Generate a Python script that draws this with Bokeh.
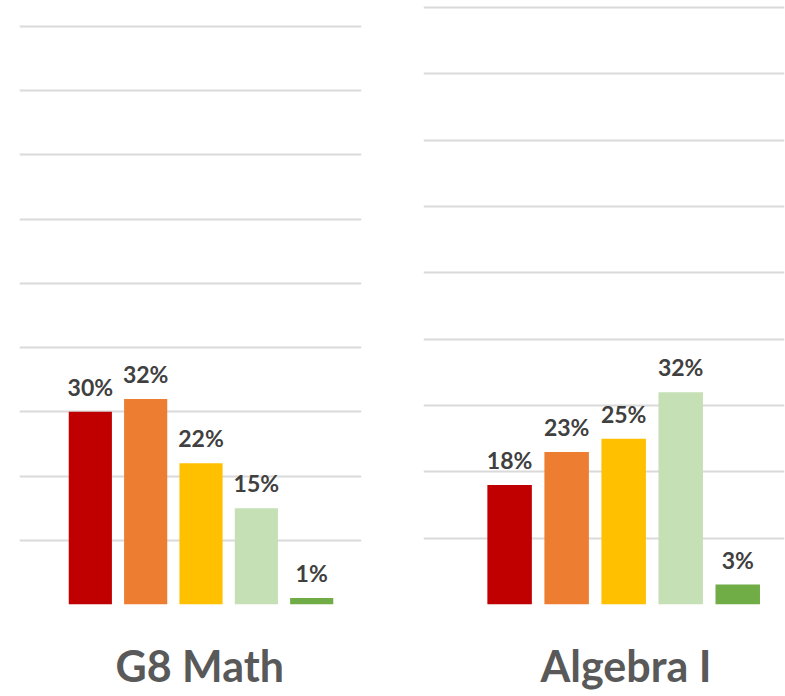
from bokeh.plotting import figure
from bokeh.layouts import row
from bokeh.models import ColumnDataSource, Range1d, FixedTicker, Title
from bokeh.embed import file_html
from bokeh.resources import INLINE
from bokeh.core.properties import value

levels = ["Level 1", "Level 2", "Level 3", "Level 4", "Level 5"]
colors = ["#C00000", "#ED7D31", "#FFC000", "#C5E0B4", "#70AD47"]
g8_values = [30, 32, 22, 15, 1]
alg_values = [18, 23, 25, 32, 3]
grid_ticks = [0, 10, 20, 30, 40, 50, 60, 70, 80, 90]
titles = ["G8 Math", "Algebra I"]

FONT = "Lato"


def make_panel(vals, title, xr, yend, width, bl, br, toff):
    src = ColumnDataSource(dict(
        x=list(range(len(vals))),
        v=vals,
        c=colors,
        lab=[f"{v}%" for v in vals],
    ))
    p = figure(width=width, height=696, x_range=Range1d(*xr), y_range=Range1d(0, yend),
               toolbar_location=None, output_backend="svg",
               min_border_left=bl, min_border_right=br, min_border_top=4,
               min_border_bottom=92)
    p.outline_line_color = None
    p.yaxis.visible = False
    p.xaxis.visible = False
    p.xgrid.visible = False
    p.ygrid.ticker = FixedTicker(ticks=grid_ticks)
    p.ygrid.grid_line_color = "#DADADA"
    p.ygrid.grid_line_width = 2
    p.vbar(x="x", top="v", width=0.78, fill_color="c", line_color=None, source=src)
    p.text(x="x", y="v", text="lab", source=src, text_align="center",
           text_baseline="alphabetic", y_offset=-25, text_color="#404040",
           text_font=value(FONT), text_font_style="bold", text_font_size="23px")
    # blank spacer between the bars and the panel title
    spacer = Title(text=" ", text_font_size="2px", standoff=29)
    p.add_layout(spacer, "below")
    t = Title(text=title, align="left", text_font=FONT, text_font_style="bold",
              text_font_size="43px", text_color="#595959", standoff=0, offset=toff)
    p.add_layout(t, "below")
    return p


p1 = make_panel(g8_values, titles[0], (-1.28, 4.9), 93.4, 392, 19, 31, 96)
p2 = make_panel(alg_values, titles[1], (-1.51, 4.82), 90.45, 393, 31, 1, 117)

layout = row(p1, p2, spacing=0)
open("out.html", "w").write(file_html(layout, INLINE))
